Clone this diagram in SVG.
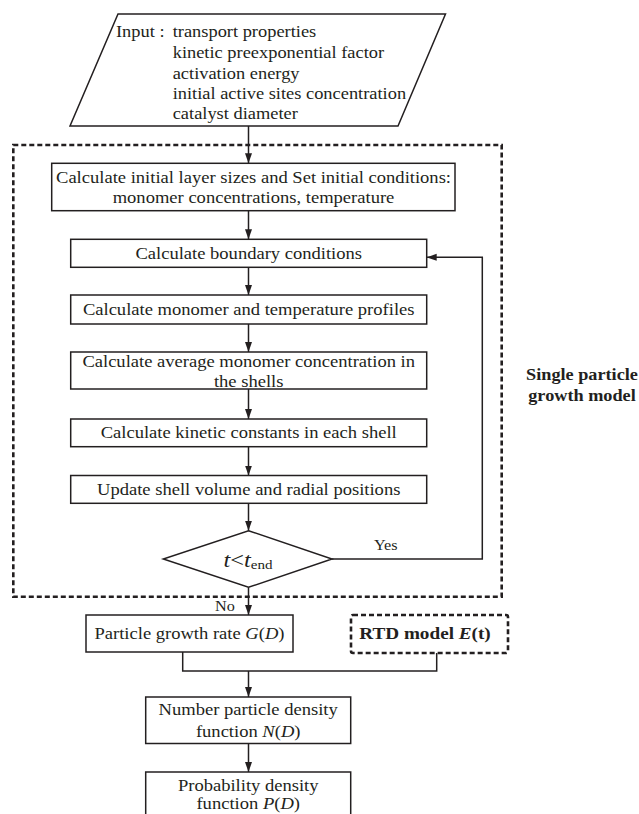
<svg xmlns="http://www.w3.org/2000/svg" width="639" height="814" viewBox="0 0 639 814">
<defs>
<style>
.box{fill:#fff;stroke:#231f20;stroke-width:1.5}
.dash{fill:none;stroke:#231f20;stroke-width:2.6;stroke-dasharray:5 3}
.ln{fill:none;stroke:#231f20;stroke-width:1.5}
.arr{marker-end:url(#ah)}
.t{font-family:"Liberation Serif","Times New Roman",serif;font-size:16px;fill:#231f20}
.c{text-anchor:middle}
.b{font-weight:bold}
.s{font-size:14px}
.i{font-style:italic}
</style>
<marker id="ah" markerUnits="userSpaceOnUse" markerWidth="10" markerHeight="8" refX="10" refY="3.5" orient="auto"><path d="M0,0 L10,3.5 L0,7 z" fill="#231f20"/></marker>
</defs>
<rect width="639" height="814" fill="#fff"/>

<g id="single-particle-model">
<rect class="dash" x="13.3" y="145" width="488.4" height="451.7"/>
<text class="t c b" transform="translate(582 379.5) scale(1.14 1)">Single particle</text>
<text class="t c b" transform="translate(582 400.5) scale(1.14 1)">growth model</text>
</g>

<g id="connectors">
<path class="ln arr" d="M248.5 126 V163.3"/>
<path class="ln arr" d="M248.5 210.7 V239.3"/>
<path class="ln arr" d="M248.5 267.3 V295"/>
<path class="ln arr" d="M248.5 324 V352"/>
<path class="ln arr" d="M248.5 389 V419"/>
<path class="ln arr" d="M248.5 446.7 V475.5"/>
<path class="ln arr" d="M248.5 503.3 V530.7"/>
<path class="ln arr" d="M248.5 587.3 V615"/>
<path class="ln arr" d="M332 559 H482.3 V257.3 H426.7"/>
<path class="ln" d="M182.7 652 V671 H436.7 V653"/>
<path class="ln arr" d="M248.5 671 V697"/>
<path class="ln arr" d="M248.5 743.5 V772"/>
<text class="t s" transform="translate(374 550) scale(1.16 1)">Yes</text>
<text class="t s" transform="translate(215 610.5) scale(1.16 1)">No</text>
</g>

<g id="input">
<polygon class="box" points="118,14 445.5,14 398,126 70,126"/>
<text class="t" transform="translate(116 37) scale(1.15 1)">Input :</text>
<text class="t" transform="translate(172.7 37) scale(1.15 1)">transport properties</text>
<text class="t" transform="translate(172.7 58) scale(1.15 1)">kinetic preexponential factor</text>
<text class="t" transform="translate(172.7 79) scale(1.15 1)">activation energy</text>
<text class="t" transform="translate(172.7 99) scale(1.15 1)">initial active sites concentration</text>
<text class="t" transform="translate(172.7 119) scale(1.15 1)">catalyst diameter</text>
</g>

<g id="init">
<rect class="box" x="51.7" y="163.3" width="403.3" height="47.4"/>
<text class="t c" transform="translate(253.5 183) scale(1.16 1)">Calculate initial layer sizes and Set initial conditions:</text>
<text class="t c" transform="translate(253.5 203) scale(1.16 1)">monomer concentrations, temperature</text>
</g>

<g id="boundary">
<rect class="box" x="70.7" y="239.3" width="356" height="28"/>
<text class="t c" transform="translate(248.7 259) scale(1.16 1)">Calculate boundary conditions</text>
</g>

<g id="profiles">
<rect class="box" x="70.7" y="295" width="356" height="29"/>
<text class="t c" transform="translate(248.7 315) scale(1.16 1)">Calculate monomer and temperature profiles</text>
</g>

<g id="average">
<rect class="box" x="70.7" y="352" width="356" height="37"/>
<text class="t c" transform="translate(248.7 367) scale(1.16 1)">Calculate average monomer concentration in</text>
<text class="t c" transform="translate(248.7 387) scale(1.16 1)">the shells</text>
</g>

<g id="kinetic">
<rect class="box" x="70.7" y="419" width="356" height="27.7"/>
<text class="t c" transform="translate(248.7 438) scale(1.16 1)">Calculate kinetic constants in each shell</text>
</g>

<g id="update">
<rect class="box" x="70.7" y="475.5" width="356" height="27.8"/>
<text class="t c" transform="translate(248.7 495) scale(1.16 1)">Update shell volume and radial positions</text>
</g>

<g id="decision">
<polygon class="box" points="248.5,530.7 332,559 248.5,587.3 163.3,559"/>
<text class="t c" transform="translate(248 566.5) scale(1.16 1)" style="font-size:21px"><tspan class="i">t</tspan>&lt;<tspan class="i">t</tspan><tspan dy="2.6" style="font-size:13px">end</tspan></text>
</g>

<g id="growth-rate">
<rect class="box" x="86" y="615" width="207" height="37"/>
<text class="t c" transform="translate(189.5 639) scale(1.16 1)">Particle growth rate <tspan class="i">G</tspan>(<tspan class="i">D</tspan>)</text>
</g>

<g id="rtd">
<rect class="dash" x="351" y="615" width="157" height="38" rx="2"/>
<text class="t c b" transform="translate(425 639) scale(1.2 1)">RTD model <tspan class="i">E</tspan>(t)</text>
</g>

<g id="number-density">
<rect class="box" x="145.7" y="697" width="205" height="46.5"/>
<text class="t c" transform="translate(248.2 715) scale(1.16 1)">Number particle density</text>
<text class="t c" transform="translate(248.2 737) scale(1.16 1)">function <tspan class="i">N</tspan>(<tspan class="i">D</tspan>)</text>
</g>

<g id="probability-density">
<rect class="box" x="145.7" y="772" width="205" height="60"/>
<text class="t c" transform="translate(248.2 791) scale(1.16 1)">Probability density</text>
<text class="t c" transform="translate(248.2 809) scale(1.16 1)">function <tspan class="i">P</tspan>(<tspan class="i">D</tspan>)</text>
</g>
</svg>
